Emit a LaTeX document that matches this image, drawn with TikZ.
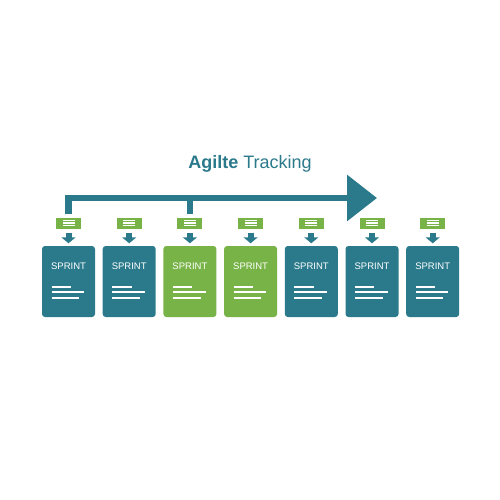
\documentclass[tikz,border=0pt]{standalone}
\usepackage{fontspec}
\setmainfont{Liberation Sans}
\usetikzlibrary{arrows.meta}
\definecolor{tealc}{HTML}{2B7A8B}
\definecolor{greenc}{HTML}{78B347}
\begin{document}
\begin{tikzpicture}[x=1pt,y=-1pt,
  card/.style={rounded corners=3pt, minimum width=53pt, minimum height=71pt, inner sep=0pt},
  cardlabel/.style={text=white, font=\fontsize{9.5}{11}\selectfont, inner sep=0pt},
  tag/.style={fill=greenc, minimum width=25pt, minimum height=11pt, inner sep=0pt},
  textline/.style={white, line width=2pt},
  iconline/.style={white, line width=1.3pt},
  droparrow/.style={tealc, line width=6pt, shorten <=4pt, shorten >=2.5pt, -{Triangle[width=14pt,length=6pt]}},
  bigline/.style={tealc, line width=6.5pt, line join=miter}]
\useasboundingbox[fill=white] (0,0) rectangle (500,500);
\node[text=tealc, font=\fontsize{18}{20}\selectfont, inner sep=0pt] (title) at (250,164) {\textbf{Agilte} Tracking};
\foreach \i/\col in {0/tealc,1/tealc,2/greenc,3/greenc,4/tealc,5/tealc,6/tealc}{
  \pgfmathsetmacro\cx{68.5+60.7*\i}
  \node[card, fill=\col] (c\i) at (\cx,281.5) {};
  \node[cardlabel] (l\i) at (\cx,266) {SPRINT};
  \draw[textline] ([xshift=9.7pt,yshift=-41.3pt]c\i.north west) -- ++(19.3,0);
  \draw[textline] ([xshift=9.7pt,yshift=-46.5pt]c\i.north west) -- ++(32.6,0);
  \draw[textline] ([xshift=9.7pt,yshift=-52.3pt]c\i.north west) -- ++(27.6,0);
  \node[tag] (t\i) at (\cx,223) {};
  \draw[iconline] ([xshift=-6pt,yshift=2.5pt]t\i.center) -- ++(12,0);
  \draw[iconline] ([xshift=-6pt]t\i.center) -- ++(12,0);
  \draw[iconline] ([xshift=-6pt,yshift=-2.5pt]t\i.center) -- ++(12,0);
  \draw[droparrow] (t\i.south) -- (c\i.north);
}
\coordinate (tip) at (377,198);
\draw[bigline, -{Triangle[width=45pt,length=30pt]}] ([yshift=3pt]t0.north) |- (tip);
\draw[bigline] ([yshift=3pt]t2.north) -- (t2.north |- tip);
\end{tikzpicture}
\end{document}
